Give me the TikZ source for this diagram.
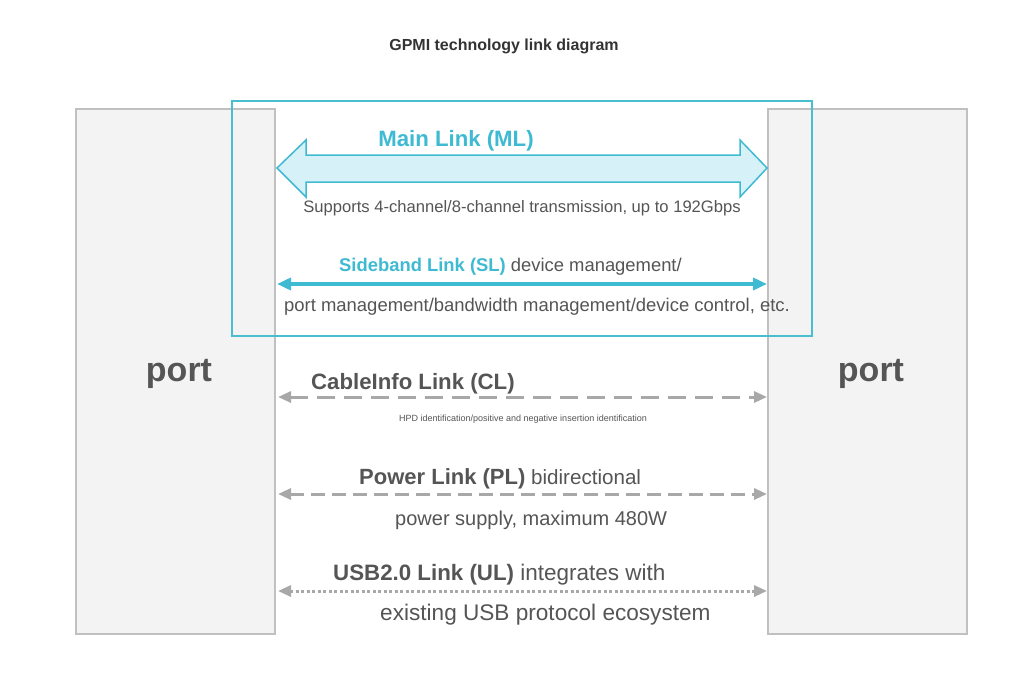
\documentclass[tikz,border=0pt]{standalone}
\usepackage{fontspec}
\setmainfont{Liberation Sans}
\usetikzlibrary{arrows.meta}
\definecolor{cy}{RGB}{62,186,210}
\definecolor{cybox}{RGB}{72,190,206}
\definecolor{cyfill}{RGB}{214,241,248}
\definecolor{txt}{RGB}{85,85,85}
\definecolor{lnk}{RGB}{168,168,168}
\definecolor{portfill}{RGB}{243,243,243}
\definecolor{portdraw}{RGB}{192,192,192}
\newcommand{\fs}[1]{\fontsize{#1}{#1}\selectfont}
\begin{document}
\begin{tikzpicture}[x=1pt,y=-1pt,
  portbox/.style={draw=portdraw,fill=portfill,line width=1.5pt},
  lbl/.style={inner sep=0pt,text=txt},
  grayarrow/.style={draw=lnk,line width=3pt,{Triangle[length=13pt,width=11pt]}-{Triangle[length=13pt,width=11pt]}},
  cyarrow/.style={draw=cy,line width=3.5pt,{Triangle[length=14pt,width=12pt]}-{Triangle[length=14pt,width=12pt]}}
]
\useasboundingbox (0,0) rectangle (1024,683);
\fill[white] (0,0) rectangle (1024,683);
% ports
\draw[portbox] (76,109) rectangle (275,634);
\draw[portbox] (768,109) rectangle (967,634);
\node[lbl,anchor=base,font=\fs{34}\bfseries] (pl) at (179,381) {port};
\node[lbl,anchor=base,font=\fs{34}\bfseries] (pr) at (871,381) {port};
% title
\node[lbl,anchor=base,font=\fs{16}\bfseries,text=black!80] (title) at (504,50) {GPMI technology link diagram};
% cyan frame
\draw[cybox,line width=2pt] (232,101) rectangle (812,336);
% main link arrow
\coordinate (mlL) at (277,168);
\coordinate (mlR) at (767,168);
\draw[cy,line width=1.5pt,fill=cyfill] (mlL) -- (306,140) -- (306,155) -- (740,155) -- (740,140) -- (mlR) -- (740,197) -- (740,182) -- (306,182) -- (306,197) -- cycle;
\node[lbl,anchor=base,font=\fs{22.2}\bfseries,text=cy] (ml) at (456,146) {Main Link (ML)};
\node[lbl,anchor=base,font=\fs{16.6}] (mld) at (522,212) {Supports 4-channel/8-channel transmission, up to 192Gbps};
% sideband
\coordinate (slL) at (277,284);
\coordinate (slR) at (767,284);
\draw[cyarrow] (slL) -- (slR);
\node[lbl,anchor=base west,font=\fs{18.4}] (sl) at (339,271) {\textcolor{cy}{\bfseries Sideband Link (SL)} device management/};
\node[lbl,anchor=base west,font=\fs{18.45}] (sld) at (284,311) {port management/bandwidth management/device control, etc.};
% cableinfo
\coordinate (clL) at (278,397);
\coordinate (clR) at (767,397);
\draw[grayarrow,dash pattern=on 18pt off 9pt] (clL) -- (clR);
\node[lbl,anchor=base west,font=\fs{22.2}\bfseries] (cl) at (311,389) {CableInfo Link (CL)};
\node[lbl,anchor=base,font=\fs{9}] (cld) at (523,421) {HPD identification/positive and negative insertion identification};
% power
\coordinate (plL) at (278,494);
\coordinate (plR) at (767,494);
\draw[grayarrow,dash pattern=on 14pt off 7pt] (plL) -- (plR);
\node[lbl,anchor=base west,font=\fs{20.6}] (pw) at (359,484) {{\fs{22}\bfseries Power Link (PL)} bidirectional};
\node[lbl,anchor=base west,font=\fs{20}] (pwd) at (395,525) {power supply, maximum 480W};
% usb
\coordinate (ulL) at (278,591);
\coordinate (ulR) at (767,591);
\draw[grayarrow,line width=3pt,dash pattern=on 3pt off 2.5pt] (ulL) -- (ulR);
\node[lbl,anchor=base west,font=\fs{22.5}] (ul) at (333,580) {{\fs{22.3}\bfseries USB2.0 Link (UL)} integrates with};
\node[lbl,anchor=base west,font=\fs{22.6}] (uld) at (380,620) {existing USB protocol ecosystem};
\end{tikzpicture}
\end{document}
